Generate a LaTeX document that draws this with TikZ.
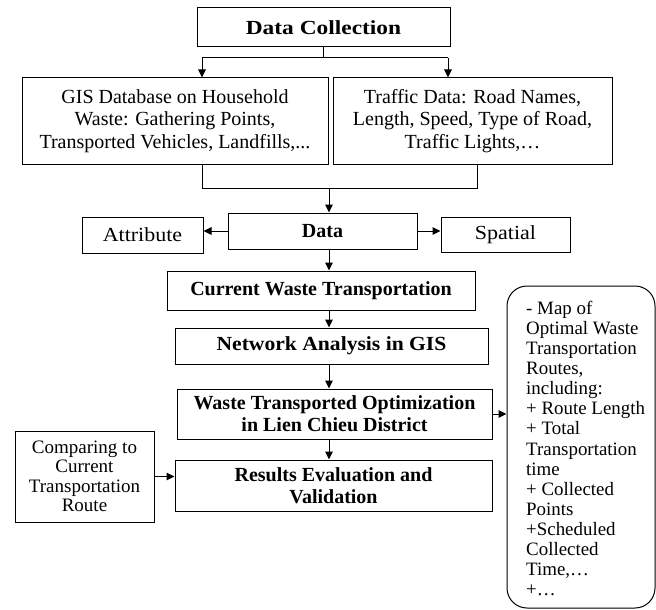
\documentclass[tikz,border=0pt]{standalone}
\usepackage{fontspec}
\setmainfont{Liberation Serif}
\usetikzlibrary{arrows.meta}
\begin{document}
\begin{tikzpicture}[x=1pt,y=-1pt,
  box/.style={draw,line width=1pt,inner sep=0pt,align=center},
  arr/.style={line width=1pt,-{Triangle[length=8pt,width=7.5pt]}},
  ln/.style={line width=1pt},
  reg/.style={font=\fontsize{20}{22.5}\selectfont},
  bld/.style={font=\fontsize{20}{22}\selectfont\bfseries},
]
\useasboundingbox (0,0) rectangle (656,610);
\node[box,bld,minimum width=253pt,minimum height=39pt] (dc) at (323.5,27.5) {\scalebox{1.17}[1]{Data Collection}};
\node[box,reg,minimum width=306pt,minimum height=86pt] (gis) at (175,121) {GIS Database on Household\\Waste: Gathering Points,\\Transported Vehicles, Landfills,...};
\node[box,reg,minimum width=279pt,minimum height=86pt] (traf) at (472.5,121) {Traffic Data: Road Names,\\Length, Speed, Type of Road,\\Traffic Lights,…};
\node[box,bld,minimum width=189pt,minimum height=36pt] (data) at (322.5,231) {Data};
\node[box,reg,minimum width=121pt,minimum height=36pt] (attr) at (142.5,235) {\scalebox{1.1}[1]{Attribute}};
\node[box,reg,minimum width=129pt,minimum height=35pt] (spat) at (505.5,234.5) {\scalebox{1.1}[1]{Spatial}};
\node[box,bld,minimum width=308pt,minimum height=39pt] (cur) at (321,290.5) {Current Waste Transportation};
\node[box,bld,minimum width=313pt,minimum height=36pt] (net) at (331.5,346) {\scalebox{1.08}[1]{Network Analysis in GIS}};
\node[box,bld,minimum width=315pt,minimum height=50pt] (opt) at (334.5,414) {Waste Transported Optimization\\in Lien Chieu District};
\node[box,bld,minimum width=317pt,minimum height=51pt] (res) at (333.5,485.5) {Results Evaluation and\\Validation};
\node[box,font=\fontsize{19}{19.5}\selectfont,minimum width=139pt,minimum height=91pt] (cmp) at (84.5,476.5) {Comparing to\\Current\\Transportation\\Route};
\node[draw,line width=1pt,rounded corners=20pt,minimum width=148pt,minimum height=322pt,inner sep=0pt] (out) at (581,447) {};
\node[anchor=west,align=left,inner sep=0pt,font=\fontsize{18.9}{20.1}\selectfont] (outtxt) at (526,448.5) {- Map of\\Optimal Waste\\Transportation\\Routes,\\including:\\+ Route Length\\+ Total\\Transportation\\time\\+ Collected\\Points\\+Scheduled\\Collected\\Time,…\\+…};
\coordinate (spine) at (329,0);
\coordinate (sl) at (202,58);
\coordinate (sr) at (448,58);
\draw[ln] (dc.south) -- (dc.south |- sl);
\draw[ln] (sl) -- (sr);
\draw[arr] (sl) -- (sl |- gis.north);
\draw[arr] (sr) -- (sr |- traf.north);
\coordinate (ml) at (202,188);
\coordinate (mr) at (477,188);
\draw[ln] (ml |- gis.south) -- (ml) -- (mr) -- (mr |- traf.south);
\draw[arr] (spine |- ml) -- (spine |- data.north);
\draw[arr] (data.west) -- (data.west -| attr.east);
\draw[arr] (data.east) -- (data.east -| spat.west);
\draw[arr] (spine |- data.south) -- (spine |- cur.north);
\draw[arr] (spine |- cur.south) -- (spine |- net.north);
\draw[arr] (spine |- net.south) -- (spine |- opt.north);
\draw[arr] (spine |- opt.south) -- (spine |- res.north);
\draw[arr] (opt.east) -- (opt.east -| out.west);
\draw[arr] (cmp.east) -- (cmp.east -| res.west);
\end{tikzpicture}
\end{document}
